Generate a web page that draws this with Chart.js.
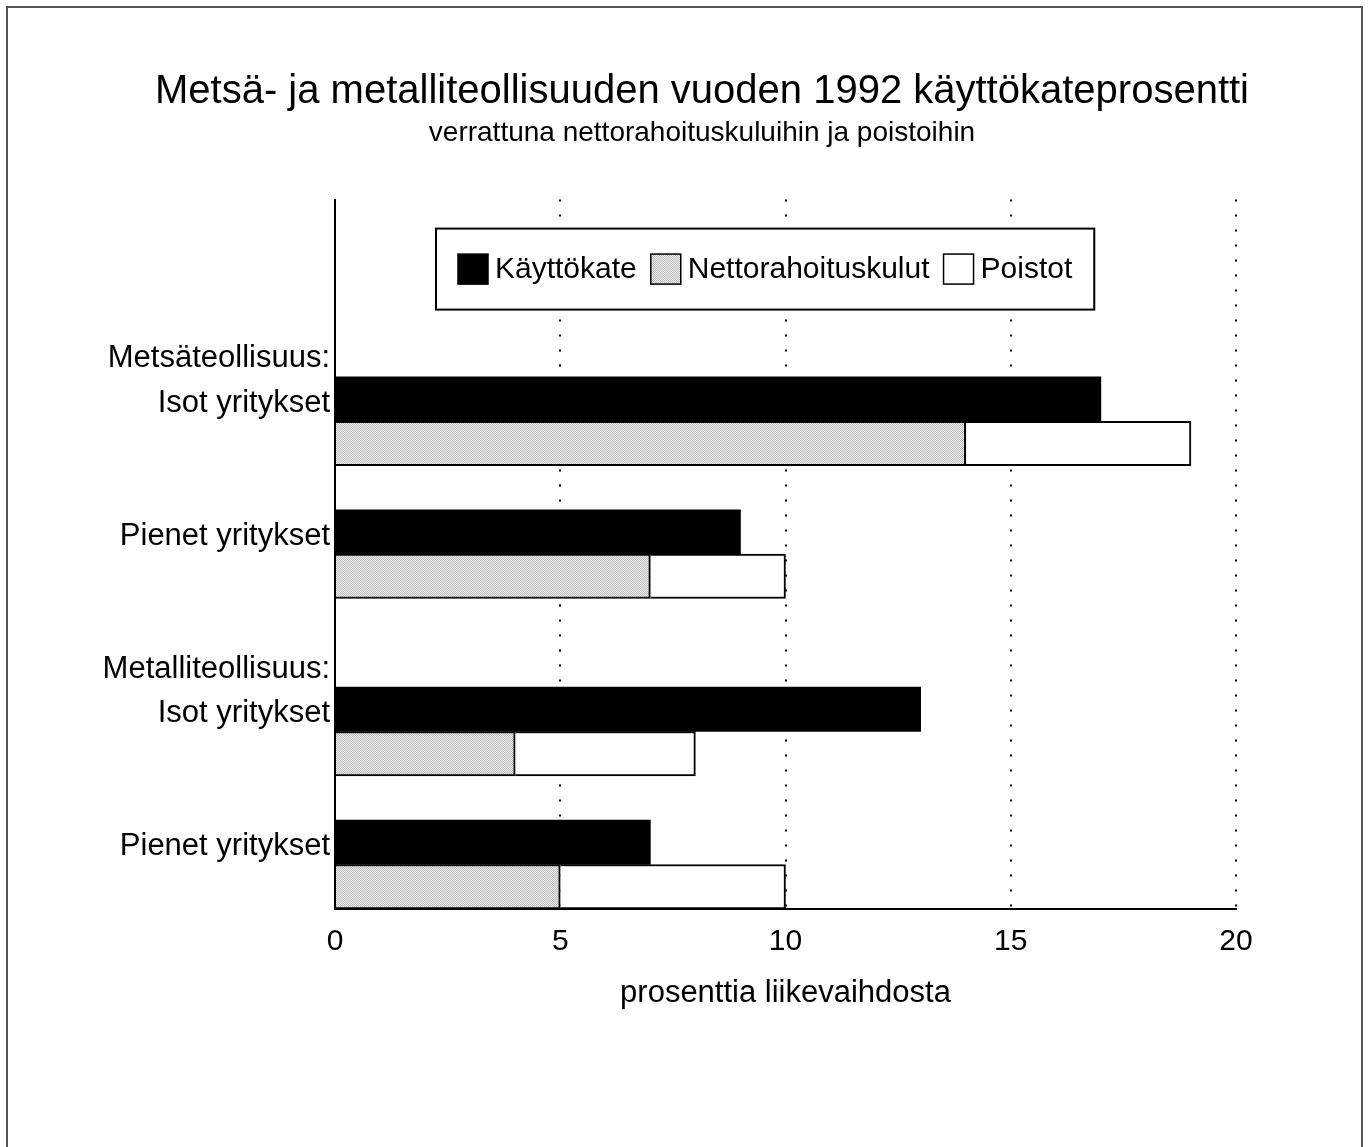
<!DOCTYPE html>
<html>
<head>
<meta charset="utf-8">
<script src="https://cdn.jsdelivr.net/npm/chart.js@4.4.1/dist/chart.umd.min.js"></script>
<style>
  html, body { margin: 0; background: #fff; overflow: hidden; }
  #wrap { position: relative; width: 1368px; height: 1147px; overflow: hidden; }
  #frame { position: absolute; left: 6px; top: 6px; width: 1353px; height: 1160px; border: 2px solid #555; border-bottom: none; }
  canvas { position: absolute; left: 0; top: 0; }
</style>
</head>
<body>
<div id="wrap">
  <div id="frame"></div>
  <canvas id="chart" width="1404" height="1147"></canvas>
</div>
<script>
// Data
const titleText = 'Metsä- ja metalliteollisuuden vuoden 1992 käyttökateprosentti';
const subtitleText = 'verrattuna nettorahoituskuluihin ja poistoihin';
const xTitle = 'prosenttia liikevaihdosta';
const industries = ['Metsäteollisuus:', 'Metalliteollisuus:'];
const companySizes = ['Isot yritykset', 'Pienet yritykset'];
const seriesNames = ['Käyttökate', 'Nettorahoituskulut', 'Poistot'];
// order: Metsä isot, Metsä pienet, Metalli isot, Metalli pienet
const kayttokate = [17, 9, 13, 7];
const nettorahoituskulut = [14, 7, 4, 5];
const poistot = [5, 3, 4, 5];
const xMin = 0, xMax = 20, xStep = 5;

// Build rows: each company gets one row for Käyttökate and one row for the stacked pair
const rowLabels = [];
const kRows = [], nRows = [], pRows = [];
function addRow(label, k, n, p) {
    rowLabels.push(label);
    kRows.push(k); nRows.push(n); pRows.push(p);
}
addRow('', null, null, null);
addRow('', null, null, null);
addRow('', null, null, null);
let idx = 0;
industries.forEach((ind, g) => {
    addRow(ind, null, null, null);
    companySizes.forEach((size, s) => {
        if (s > 0) addRow('', null, null, null);
        addRow(size, kayttokate[idx], null, null);
        addRow('', null, nettorahoituskulut[idx], poistot[idx]);
        idx++;
    });
    if (g < industries.length - 1) addRow('', null, null, null);
});

const canvas = document.getElementById('chart');
const ctx = canvas.getContext('2d');

// light stippled grey like the printed original
function stipple() {
    const c = document.createElement('canvas');
    c.width = 2; c.height = 2;
    const g = c.getContext('2d');
    g.fillStyle = '#ededed'; g.fillRect(0, 0, 2, 2);
    g.fillStyle = '#bcbcbc'; g.fillRect(0, 0, 1, 1); g.fillRect(1, 1, 1, 1);
    return ctx.createPattern(c, 'repeat');
}
const greyFill = stipple();

Chart.defaults.font.family = "'Liberation Sans', Arial, sans-serif";
Chart.defaults.color = '#000';

// Legend drawn as a boxed row inside the plot area
const boxLegend = {
    id: 'boxLegend',
    afterDatasetsDraw(chart) {
        const { ctx, chartArea } = chart;
        ctx.save();
        ctx.font = "30px 'Liberation Sans', Arial, sans-serif";
        const items = chart.data.datasets.map(ds => ({
            label: ds.label, fill: ds.backgroundColor, w: ctx.measureText(ds.label).width
        }));
        const sw = 30, gap = 7, itemGap = 14, pad = 22, h = 81;
        const total = pad * 2 + items.reduce((a, it) => a + sw + gap + it.w, 0) + itemGap * (items.length - 1);
        const cx = (chartArea.left + chartArea.right) / 2 - 20;
        const left = Math.round(cx - total / 2);
        const top = chartArea.top + 29;
        ctx.fillStyle = '#fff';
        ctx.fillRect(left, top, total, h);
        ctx.lineWidth = 2;
        ctx.strokeStyle = '#000';
        ctx.strokeRect(left, top, total, h);
        let x = left + pad;
        const cy = top + h / 2;
        items.forEach(it => {
            ctx.fillStyle = it.fill;
            ctx.fillRect(x, cy - sw / 2, sw, sw);
            ctx.lineWidth = 1.5;
            ctx.strokeRect(x, cy - sw / 2, sw, sw);
            x += sw + gap;
            ctx.fillStyle = '#000';
            ctx.textBaseline = 'middle';
            ctx.textAlign = 'left';
            ctx.fillText(it.label, x, cy + 1);
            x += it.w + itemGap;
        });
        ctx.restore();
    }
};

const chart = new Chart(ctx, {
    type: 'bar',
    data: {
        labels: rowLabels,
        datasets: [
            { label: seriesNames[0], data: kRows, backgroundColor: '#000', borderWidth: 0 },
            { label: seriesNames[1], data: nRows, backgroundColor: greyFill, borderColor: '#000', borderWidth: 2 },
            { label: seriesNames[2], data: pRows, backgroundColor: '#fff', borderColor: '#000', borderWidth: 2 }
        ]
    },
    options: {
        indexAxis: 'y',
        responsive: false,
        animation: false,
        events: [],
        barPercentage: 1,
        categoryPercentage: 1,
        layout: { padding: { left: 0, right: 0, top: 0, bottom: 135 } },
        plugins: {
            legend: { display: false },
            tooltip: { enabled: false },
            title: {
                display: true, text: titleText, color: '#000',
                font: { size: 40, weight: 'normal' },
                padding: { top: 68, bottom: 0 }
            },
            subtitle: {
                display: true, text: subtitleText, color: '#000',
                font: { size: 28, weight: 'normal' },
                padding: { top: 0, bottom: 50 }
            }
        },
        scales: {
            x: {
                stacked: true,
                min: xMin, max: xMax,
                ticks: { stepSize: xStep, padding: 15, color: '#000', font: { size: 30 } },
                grid: {
                    drawTicks: false, lineWidth: 2,
                    color: c => c.tick && c.tick.value === xMin ? 'rgba(0,0,0,0)' : '#000'
                },
                border: { display: true, color: '#000', width: 2, dash: [2, 13] },
                title: {
                    display: true, text: xTitle, color: '#000',
                    font: { size: 31 }, padding: { top: 0, bottom: 0 }
                }
            },
            y: {
                stacked: true,
                afterFit: s => { s.width = 335; },
                ticks: { autoSkip: false, padding: 5, labelOffset: 4, color: '#000', font: { size: 31 } },
                grid: { display: false, drawTicks: false },
                border: { display: true, color: '#000', width: 2 }
            },
            // empty right-hand strip so the titles centre like the original
            yRight: {
                type: 'category',
                position: 'right',
                afterFit: s => { s.width = 168; },
                ticks: { display: false },
                grid: { display: false, drawTicks: false },
                border: { display: false }
            }
        }
    },
    plugins: [boxLegend]
});
</script>
</body>
</html>
